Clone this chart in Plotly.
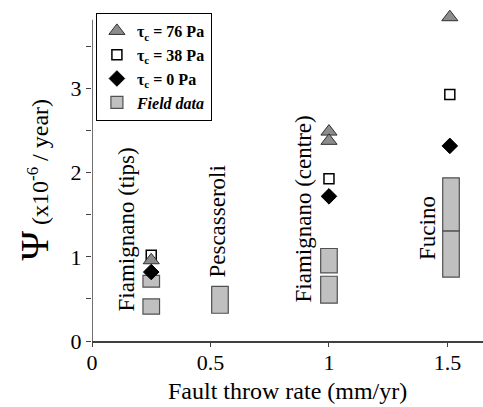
import plotly.graph_objects as go

# ---- data ----
model_x = [0.25, 1.0, 1.51]
tau76 = [0.96, 2.49, 3.85]
tau76_extra_x = [1.0]
tau76_extra_y = [2.38]
tau38 = [1.02, 1.93, 2.93]
tau0 = [0.82, 1.72, 2.32]

field_x = [0.25, 0.25, 0.54, 1.0, 1.0, 1.515, 1.515]
field_low = [0.32, 0.64, 0.33, 0.45, 0.81, 0.76, 1.31]
field_high = [0.50, 0.78, 0.65, 0.77, 1.10, 1.31, 1.94]

site_names = ["Fiamignano (tips)", "Pescasseroli", "Fiamignano (centre)", "Fucino"]
site_x = [0.25, 0.54, 1.0, 1.515]
site_label_base = [0.33, 0.73, 0.44, 0.94]
site_label_shift = [-25, -2, -25, -23]

x_ticks = [0, 0.5, 1, 1.5]
y_ticks = [0, 1, 2, 3]
y_axis_top = 3.82

FONT = "Liberation Serif, Times New Roman, serif"

fig = go.Figure()

fig.add_trace(go.Bar(
    x=field_x, y=[h - l for h, l in zip(field_high, field_low)], base=field_low,
    width=0.07, marker=dict(color="#c0c0c0", line=dict(color="#505050", width=1.2)),
    name="<b><i>Field data</i></b>", showlegend=True, legendrank=4,
))
fig.add_trace(go.Scatter(
    x=model_x, y=tau38, mode="markers",
    marker=dict(symbol="square", size=10, color="white", line=dict(color="black", width=1.5)),
    name="<b>τ<sub>c</sub> = 38 Pa</b>", cliponaxis=False, legendrank=2,
))
fig.add_trace(go.Scatter(
    x=model_x + tau76_extra_x, y=tau76 + tau76_extra_y, mode="markers",
    marker=dict(symbol="triangle-up", size=14, color="#8c8c8c", line=dict(color="#303030", width=1)),
    name="<b>τ<sub>c</sub> = 76 Pa</b>", cliponaxis=False, legendrank=1,
))
fig.add_trace(go.Scatter(
    x=model_x, y=tau0, mode="markers",
    marker=dict(symbol="diamond", size=12, color="black", line=dict(color="black", width=1)),
    name="<b>τ<sub>c</sub> = 0 Pa</b>", cliponaxis=False, legendrank=3,
))

for name, x, y, sh in zip(site_names, site_x, site_label_base, site_label_shift):
    fig.add_annotation(x=x, y=y, text=name, textangle=-90, showarrow=False,
                       xanchor="center", yanchor="bottom", xshift=sh,
                       font=dict(family=FONT, size=23, color="black"))

fig.add_annotation(xref="paper", yref="paper", x=-0.148, y=0.49,
                   text="<span style='font-size:40px'>Ψ</span> (x10<sup>-6</sup> / year)",
                   textangle=-90, showarrow=False, xanchor="center", yanchor="middle",
                   font=dict(family=FONT, size=24, color="black"))
fig.add_annotation(xref="paper", yref="paper", x=0.5, y=-0.152,
                   text="Fault throw rate (mm/yr)", showarrow=False,
                   xanchor="center", yanchor="middle",
                   font=dict(family=FONT, size=24, color="black"))

# y axis line (ends at the top tick area, like the reference)
fig.add_shape(type="line", xref="x", yref="y", x0=0, x1=0, y0=0, y1=y_axis_top,
              line=dict(color="#404040", width=1.5), layer="above")

fig.update_layout(
    width=483, height=407,
    margin=dict(l=92, r=0, t=13, b=66),
    plot_bgcolor="white", paper_bgcolor="white",
    font=dict(family=FONT, color="black"),
    barmode="overlay",
    xaxis=dict(range=[0, 1.65], tickvals=x_ticks, ticks="outside", ticklen=4,
               showline=True, linecolor="#404040", linewidth=1.5, tickcolor="#404040",
               showgrid=False, zeroline=False, tickfont=dict(size=22),
               ticklabelstandoff=-3),
    yaxis=dict(range=[0, 3.9], tickvals=y_ticks, ticks="outside", ticklen=5,
               minor=dict(tickvals=[0.5, 1.5, 2.5, 3.5], ticks="outside", ticklen=5, tickcolor="#404040"),
               showline=False, tickcolor="#404040",
               showgrid=False, zeroline=False, tickfont=dict(size=22)),
    legend=dict(x=0.01, y=1.0, xanchor="left", yanchor="top",
                bordercolor="black", borderwidth=1, bgcolor="white",
                font=dict(family=FONT, size=16), tracegroupgap=0, itemwidth=30),
    showlegend=True,
)

fig.write_html("out.html", post_script="document.body.style.margin='0px';",
               config={"displayModeBar": False})
